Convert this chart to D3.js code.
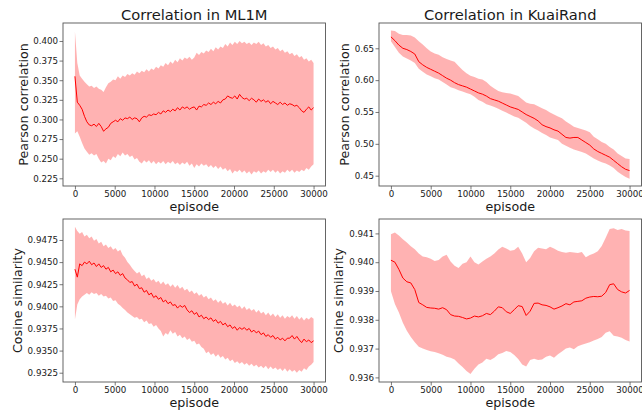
<!DOCTYPE html>
<html>
<head>
<meta charset="utf-8">
<script src="https://cdn.jsdelivr.net/npm/d3@7"></script>
<style>
  body { margin: 0; background: #fff; }
  svg { display: block; font-family: "DejaVu Sans", sans-serif; }
</style>
</head>
<body>
<svg id="chart" width="642" height="415"></svg>
<script>
// x values: training episodes (ML1M logged every 300, KuaiRand every 500)
const episodesML = d3.range(0, 30001, 300);
const episodesKR = d3.range(0, 30001, 500);
const episodeTicks = [0, 5000, 10000, 15000, 20000, 25000, 30000];

// ML1M - Pearson correlation
const mlPearsonMean = [
  0.355,0.322,0.318,0.313,0.304,0.297,0.293,0.292,0.294,0.291,
  0.295,0.291,0.285,0.288,0.290,0.295,0.297,0.299,0.297,0.301,
  0.299,0.302,0.301,0.303,0.300,0.302,0.301,0.297,0.302,0.304,
  0.303,0.306,0.305,0.307,0.306,0.309,0.307,0.311,0.309,0.312,
  0.310,0.313,0.311,0.315,0.312,0.316,0.314,0.316,0.313,0.315,
  0.316,0.312,0.317,0.316,0.319,0.318,0.321,0.319,0.322,0.320,
  0.323,0.321,0.325,0.326,0.330,0.328,0.327,0.330,0.326,0.332,
  0.328,0.326,0.327,0.324,0.327,0.325,0.322,0.326,0.323,0.325,
  0.322,0.324,0.320,0.323,0.321,0.319,0.322,0.319,0.321,0.318,
  0.320,0.319,0.317,0.318,0.315,0.311,0.309,0.313,0.316,0.312,
  0.315];
const mlPearsonUpper = [
  0.412,0.372,0.356,0.352,0.348,0.345,0.342,0.343,0.340,0.342,
  0.339,0.338,0.335,0.341,0.346,0.348,0.351,0.350,0.355,0.352,
  0.356,0.354,0.358,0.356,0.359,0.357,0.361,0.359,0.362,0.360,
  0.364,0.361,0.365,0.363,0.367,0.365,0.369,0.367,0.372,0.369,
  0.374,0.371,0.376,0.373,0.378,0.375,0.379,0.377,0.380,0.376,
  0.379,0.385,0.382,0.386,0.384,0.388,0.386,0.390,0.387,0.392,
  0.389,0.393,0.391,0.396,0.393,0.398,0.395,0.399,0.396,0.400,
  0.397,0.399,0.396,0.398,0.395,0.398,0.396,0.399,0.395,0.397,
  0.393,0.395,0.391,0.393,0.389,0.391,0.387,0.389,0.385,0.387,
  0.383,0.385,0.381,0.383,0.379,0.381,0.376,0.378,0.374,0.376,
  0.372];
const mlPearsonLower = [
  0.282,0.285,0.278,0.270,0.263,0.259,0.255,0.257,0.254,0.256,
  0.250,0.245,0.247,0.244,0.250,0.248,0.253,0.251,0.256,0.253,
  0.258,0.254,0.256,0.252,0.254,0.249,0.251,0.246,0.244,0.248,
  0.245,0.248,0.244,0.247,0.243,0.246,0.244,0.247,0.243,0.246,
  0.244,0.247,0.243,0.245,0.242,0.245,0.243,0.246,0.241,0.244,
  0.238,0.243,0.240,0.244,0.241,0.243,0.239,0.242,0.238,0.241,
  0.237,0.240,0.236,0.238,0.234,0.237,0.231,0.235,0.233,0.236,
  0.232,0.235,0.231,0.234,0.230,0.234,0.232,0.235,0.231,0.234,
  0.232,0.236,0.233,0.236,0.232,0.235,0.231,0.234,0.232,0.236,
  0.233,0.236,0.232,0.235,0.233,0.236,0.234,0.238,0.236,0.240,
  0.243];

// KuaiRand - Pearson correlation
const krPearsonMean = [
  0.668,0.662,0.655,0.650,0.648,0.645,0.641,0.629,0.624,0.620,
  0.617,0.614,0.611,0.607,0.603,0.600,0.596,0.593,0.591,0.589,
  0.586,0.583,0.580,0.578,0.575,0.571,0.569,0.567,0.564,0.561,
  0.558,0.556,0.554,0.550,0.546,0.543,0.540,0.536,0.530,0.527,
  0.525,0.522,0.520,0.515,0.510,0.509,0.510,0.510,0.506,0.502,
  0.498,0.492,0.488,0.485,0.482,0.479,0.474,0.469,0.464,0.460,
  0.458];
const krPearsonUpper = [
  0.678,0.677,0.673,0.671,0.671,0.670,0.667,0.661,0.656,0.650,
  0.645,0.642,0.640,0.636,0.633,0.631,0.629,0.622,0.616,0.611,
  0.607,0.605,0.602,0.601,0.597,0.591,0.587,0.583,0.581,0.580,
  0.579,0.577,0.575,0.570,0.565,0.563,0.562,0.559,0.556,0.553,
  0.549,0.546,0.543,0.540,0.535,0.531,0.527,0.525,0.523,0.521,
  0.518,0.511,0.507,0.503,0.500,0.495,0.491,0.485,0.481,0.477,
  0.476];
const krPearsonLower = [
  0.661,0.652,0.643,0.637,0.634,0.631,0.627,0.618,0.613,0.609,
  0.606,0.603,0.601,0.597,0.593,0.589,0.587,0.584,0.582,0.580,
  0.578,0.574,0.569,0.566,0.562,0.560,0.558,0.555,0.552,0.549,
  0.546,0.543,0.541,0.537,0.533,0.528,0.524,0.521,0.517,0.514,
  0.510,0.508,0.506,0.500,0.497,0.494,0.491,0.489,0.487,0.485,
  0.481,0.477,0.474,0.471,0.469,0.466,0.462,0.456,0.452,0.448,
  0.445];

// ML1M - cosine similarity
const mlCosineMean = [
  0.9442,0.9433,0.9448,0.9446,0.9450,0.9448,0.9451,0.9447,0.9449,0.9445,
  0.9448,0.9444,0.9446,0.9442,0.9444,0.9439,0.9441,0.9437,0.9439,0.9435,
  0.9437,0.9432,0.9430,0.9427,0.9428,0.9423,0.9425,0.9420,0.9421,0.9416,
  0.9418,0.9413,0.9415,0.9410,0.9412,0.9408,0.9410,0.9405,0.9407,0.9403,
  0.9405,0.9401,0.9402,0.9398,0.9401,0.9399,0.9401,0.9396,0.9393,0.9395,
  0.9391,0.9393,0.9388,0.9390,0.9386,0.9388,0.9385,0.9387,0.9383,0.9385,
  0.9381,0.9383,0.9379,0.9381,0.9377,0.9379,0.9375,0.9377,0.9373,0.9376,
  0.9374,0.9376,0.9373,0.9375,0.9371,0.9373,0.9370,0.9372,0.9368,0.9370,
  0.9366,0.9368,0.9365,0.9367,0.9363,0.9365,0.9362,0.9364,0.9361,0.9364,
  0.9364,0.9367,0.9363,0.9366,0.9362,0.9359,0.9363,0.9360,0.9362,0.9359,
  0.9361];
const mlCosineUpper = [
  0.9490,0.9485,0.9482,0.9484,0.9479,0.9481,0.9477,0.9479,0.9474,0.9476,
  0.9471,0.9473,0.9468,0.9470,0.9466,0.9468,0.9464,0.9466,0.9462,0.9464,
  0.9458,0.9455,0.9450,0.9447,0.9443,0.9440,0.9437,0.9439,0.9434,0.9436,
  0.9431,0.9433,0.9429,0.9431,0.9427,0.9429,0.9425,0.9428,0.9424,0.9426,
  0.9422,0.9425,0.9421,0.9424,0.9420,0.9422,0.9418,0.9420,0.9416,0.9418,
  0.9414,0.9416,0.9412,0.9414,0.9410,0.9412,0.9408,0.9410,0.9406,0.9408,
  0.9404,0.9407,0.9403,0.9405,0.9401,0.9404,0.9400,0.9402,0.9399,0.9401,
  0.9397,0.9400,0.9396,0.9398,0.9395,0.9397,0.9393,0.9396,0.9392,0.9394,
  0.9390,0.9393,0.9389,0.9392,0.9388,0.9391,0.9387,0.9390,0.9386,0.9389,
  0.9387,0.9390,0.9386,0.9389,0.9385,0.9388,0.9384,0.9387,0.9385,0.9388,
  0.9386];
const mlCosineLower = [
  0.9385,0.9402,0.9408,0.9411,0.9413,0.9415,0.9413,0.9416,0.9414,0.9415,
  0.9412,0.9414,0.9411,0.9412,0.9409,0.9410,0.9406,0.9407,0.9403,0.9401,
  0.9398,0.9396,0.9393,0.9391,0.9389,0.9387,0.9388,0.9385,0.9386,0.9382,
  0.9384,0.9380,0.9381,0.9377,0.9379,0.9375,0.9372,0.9366,0.9370,0.9368,
  0.9373,0.9369,0.9371,0.9366,0.9368,0.9364,0.9366,0.9362,0.9364,0.9360,
  0.9361,0.9357,0.9358,0.9354,0.9352,0.9347,0.9349,0.9345,0.9347,0.9343,
  0.9346,0.9342,0.9344,0.9340,0.9342,0.9338,0.9340,0.9336,0.9338,0.9335,
  0.9337,0.9334,0.9336,0.9333,0.9335,0.9332,0.9334,0.9331,0.9333,0.9330,
  0.9333,0.9329,0.9332,0.9329,0.9331,0.9328,0.9330,0.9327,0.9330,0.9326,
  0.9329,0.9326,0.9328,0.9325,0.9328,0.9326,0.9330,0.9328,0.9332,0.9334,
  0.9337];

// KuaiRand - cosine similarity
const krCosineMean = [
  0.94007,0.94000,0.93975,0.93945,0.93932,0.93928,0.93905,0.93860,0.93852,0.93843,
  0.93841,0.93840,0.93837,0.93842,0.93835,0.93818,0.93813,0.93812,0.93808,0.93803,
  0.93806,0.93813,0.93810,0.93814,0.93822,0.93818,0.93830,0.93845,0.93842,0.93828,
  0.93822,0.93835,0.93849,0.93846,0.93815,0.93830,0.93857,0.93858,0.93852,0.93850,
  0.93845,0.93837,0.93842,0.93848,0.93856,0.93852,0.93862,0.93864,0.93866,0.93875,
  0.93879,0.93881,0.93880,0.93882,0.93895,0.93922,0.93925,0.93905,0.93897,0.93893,
  0.93902];
const krCosineUpper = [
  0.94097,0.94103,0.94093,0.94080,0.94068,0.94055,0.94045,0.94030,0.94020,0.94017,
  0.94012,0.94004,0.94008,0.94020,0.94026,0.94002,0.93988,0.93980,0.93995,0.94000,
  0.94020,0.94000,0.93992,0.94002,0.94012,0.94020,0.94030,0.94044,0.94054,0.94048,
  0.94040,0.94042,0.94054,0.94030,0.94000,0.94015,0.94038,0.94050,0.94048,0.94045,
  0.94054,0.94048,0.94040,0.94035,0.94033,0.94035,0.94034,0.94032,0.94035,0.94017,
  0.94025,0.94030,0.94038,0.94056,0.94085,0.94115,0.94118,0.94112,0.94115,0.94110,
  0.94108];
const krCosineLower = [
  0.93899,0.93855,0.93825,0.93790,0.93762,0.93740,0.93722,0.93706,0.93700,0.93695,
  0.93691,0.93688,0.93684,0.93679,0.93672,0.93668,0.93662,0.93648,0.93636,0.93622,
  0.93612,0.93630,0.93645,0.93652,0.93665,0.93660,0.93668,0.93680,0.93685,0.93692,
  0.93688,0.93678,0.93664,0.93645,0.93638,0.93660,0.93665,0.93660,0.93662,0.93672,
  0.93676,0.93668,0.93680,0.93690,0.93700,0.93704,0.93698,0.93708,0.93713,0.93718,
  0.93722,0.93728,0.93733,0.93740,0.93755,0.93760,0.93745,0.93742,0.93738,0.93730,
  0.93725];

// y tick labels per panel
const mlPearsonTicks = [0.225, 0.250, 0.275, 0.300, 0.325, 0.350, 0.375, 0.400];
const krPearsonTicks = [0.45, 0.50, 0.55, 0.60, 0.65];
const mlCosineTicks = [0.9325, 0.9350, 0.9375, 0.9400, 0.9425, 0.9450, 0.9475];
const krCosineTicks = [0.936, 0.937, 0.938, 0.939, 0.940, 0.941];

const svg = d3.select("#chart");
const textColor = "#1a1a1a";
const spineColor = "#555";

const panels = [
    { title: "Correlation in ML1M", ylabel: "Pearson correlation",
      x: episodesML, mean: mlPearsonMean, upper: mlPearsonUpper, lower: mlPearsonLower,
      yTicks: mlPearsonTicks, fmt: ".3f", yDomain: [0.2152, 0.4229],
      left: 63, top: 23, labelOffset: 35 },
    { title: "Correlation in KuaiRand", ylabel: "Pearson correlation",
      x: episodesKR, mean: krPearsonMean, upper: krPearsonUpper, lower: krPearsonLower,
      yTicks: krPearsonTicks, fmt: ".2f", yDomain: [0.4338, 0.6897],
      left: 379, top: 23, labelOffset: 30.5 },
    { title: null, ylabel: "Cosine similarity",
      x: episodesML, mean: mlCosineMean, upper: mlCosineUpper, lower: mlCosineLower,
      yTicks: mlCosineTicks, fmt: ".4f", yDomain: [0.93145, 0.94987],
      left: 63, top: 219, labelOffset: 41.5 },
    { title: null, ylabel: "Cosine similarity",
      x: episodesKR, mean: krCosineMean, upper: krCosineUpper, lower: krCosineLower,
      yTicks: krCosineTicks, fmt: ".3f", yDomain: [0.93584, 0.9415],
      left: 379, top: 219, labelOffset: 36.5 }
];

const pw = 262.5, ph = 163;

panels.forEach(p => {
    const g = svg.append("g").attr("transform", `translate(${p.left},${p.top})`);
    const x = d3.scaleLinear().domain([-1500, 31500]).range([0, pw]);
    const y = d3.scaleLinear().domain(p.yDomain).range([ph, 0]);
    const rows = p.x.map((e, i) => ({ e: e, m: p.mean[i], hi: p.upper[i], lo: p.lower[i] }));

    const area = d3.area()
        .x(d => x(d.e))
        .y0(d => y(d.lo))
        .y1(d => y(d.hi));
    const line = d3.line()
        .x(d => x(d.e))
        .y(d => y(d.m));

    g.append("path").datum(rows)
        .attr("d", area)
        .attr("fill", "red")
        .attr("fill-opacity", 0.3);
    g.append("path").datum(rows)
        .attr("d", line)
        .attr("fill", "none")
        .attr("stroke", "red")
        .attr("stroke-width", 1);

    const xAxis = g.append("g")
        .attr("transform", `translate(0,${ph})`)
        .call(d3.axisBottom(x).tickValues(episodeTicks).tickFormat(d3.format("d"))
            .tickSize(3.5).tickPadding(1.5));
    const yAxis = g.append("g")
        .call(d3.axisLeft(y).tickValues(p.yTicks).tickFormat(d3.format(p.fmt))
            .tickSize(3.5).tickPadding(1.5));

    [xAxis, yAxis].forEach(a => {
        a.select(".domain").remove();
        a.selectAll(".tick line").attr("stroke", spineColor).attr("stroke-width", 0.8);
        a.selectAll(".tick text")
            .attr("fill", textColor)
            .style("font-family", "DejaVu Sans")
            .style("font-size", "8.7px");
    });

    g.append("rect")
        .attr("width", pw).attr("height", ph)
        .attr("fill", "none")
        .attr("stroke", spineColor)
        .attr("stroke-width", 0.9);

    g.append("text")
        .attr("x", pw / 2).attr("y", ph + 24.5)
        .attr("text-anchor", "middle")
        .attr("fill", textColor)
        .style("font-size", "12.7px")
        .text("episode");

    g.append("text")
        .attr("transform", `translate(${-p.labelOffset},${ph / 2}) rotate(-90)`)
        .attr("text-anchor", "middle")
        .attr("fill", textColor)
        .style("font-size", "12.7px")
        .text(p.ylabel);

    if (p.title) {
        g.append("text")
            .attr("x", pw / 2).attr("y", -3)
            .attr("text-anchor", "middle")
            .attr("fill", textColor)
            .style("font-size", "14.7px")
            .text(p.title);
    }
});
</script>
</body>
</html>
